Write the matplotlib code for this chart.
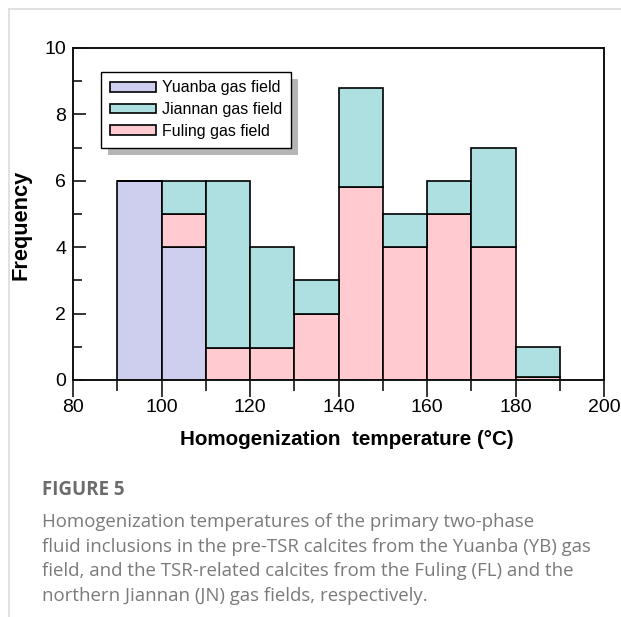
import matplotlib
matplotlib.use("Agg")
import matplotlib.pyplot as plt
from matplotlib.lines import Line2D
from matplotlib.patches import Patch

# ---- data ----
bin_left = [90, 100, 110, 120, 130, 140, 150, 160, 170, 180]
bin_width = 10
yuanba = [6, 4, 0, 0, 0, 0, 0, 0, 0, 0]
fuling = [0, 1, 0.95, 0.95, 2, 5.8, 4, 5, 4, 0.08]
jiannan = [0, 1, 5.05, 3.05, 1, 3, 1, 1, 3, 0.92]
series_names = ["Yuanba gas field", "Jiannan gas field", "Fuling gas field"]
colors = {"Yuanba gas field": "#cecfef", "Jiannan gas field": "#aedfe1", "Fuling gas field": "#ffcbd0"}
x_ticks = [80, 100, 120, 140, 160, 180, 200]
y_ticks = [0, 2, 4, 6, 8, 10]

caption_title = "FIGURE 5"
caption_lines = [
    "Homogenization temperatures of the primary two-phase",
    "fluid inclusions in the pre-TSR calcites from the Yuanba (YB) gas",
    "field, and the TSR-related calcites from the Fuling (FL) and the",
    "northern Jiannan (JN) gas fields, respectively.",
]

plt.rcParams['font.family'] = ['Liberation Sans', 'DejaVu Sans']

fig = plt.figure(figsize=(6.21, 6.17), dpi=100)
W, H = 621, 617
ax = fig.add_axes([73 / W, 1 - 380 / H, (604 - 73) / W, (380 - 48) / H])

ew = 1.2
ax.bar(bin_left, yuanba, width=bin_width, align='edge', color=colors["Yuanba gas field"],
       edgecolor='black', linewidth=ew, zorder=2)
bottom2 = [a for a in yuanba]
ax.bar(bin_left, fuling, width=bin_width, align='edge', bottom=bottom2,
       color=colors["Fuling gas field"], edgecolor='black', linewidth=ew, zorder=2)
bottom3 = [a + b for a, b in zip(yuanba, fuling)]
ax.bar(bin_left, jiannan, width=bin_width, align='edge', bottom=bottom3,
       color=colors["Jiannan gas field"], edgecolor='black', linewidth=ew, zorder=2)

ax.set_xlim(80, 200)
ax.set_ylim(0, 10)
ax.set_xticks(x_ticks)
ax.set_yticks(y_ticks)
ax.set_xticks(range(90, 200, 20), minor=True)
ax.set_yticks(range(1, 10, 2), minor=True)
ax.tick_params(axis='x', which='major', direction='out', length=12, width=1.1, labelsize=14, pad=2)
ax.tick_params(axis='x', which='minor', direction='out', length=8, width=1.1)
ax.tick_params(axis='y', which='major', direction='in', length=9.5, width=1.1, labelsize=14, pad=5)
ax.tick_params(axis='y', which='minor', direction='in', length=6.5, width=1.1)
for s in ax.spines.values():
    s.set_linewidth(1.4)
    s.set_color('#111111')

ax.set_xlabel("Homogenization  temperature (°C)", fontsize=14.9, fontweight='bold')
ax.set_ylabel("Frequency", fontsize=15.7, fontweight='bold')
ax.xaxis.set_label_coords(0.516, -0.150)
ax.yaxis.set_label_coords(-0.078, 0.468)

handles = [Patch(facecolor=colors[n], edgecolor='black', linewidth=1.2, label=n) for n in series_names]
leg = ax.legend(handles=handles, loc='upper left', bbox_to_anchor=(0.0527, 0.9286),
                fontsize=11.5, frameon=True, fancybox=False, edgecolor='black',
                shadow={'ox': 5, 'oy': -5, 'facecolor': '#b5b5b5', 'edgecolor': 'none', 'alpha': 1},
                handlelength=2.9, handleheight=0.55, handletextpad=0.35, labelspacing=0.42,
                borderpad=0.55, borderaxespad=0)
leg.get_frame().set_linewidth(1.0)
leg.get_frame().set_alpha(1)

# figure frame lines
fig.add_artist(Line2D([9 / W, 9 / W], [0, 1 - 9 / H], transform=fig.transFigure, color='#dcdcdc', lw=1.2))
fig.add_artist(Line2D([9 / W, 1], [1 - 9 / H, 1 - 9 / H], transform=fig.transFigure, color='#dcdcdc', lw=1.2))

cap_font = ['Open Sans', 'DejaVu Sans']
fig.text(42 / W, 1 - 490 / H, caption_title, fontsize=13.5, fontweight='bold', color='#6b6b6b',
         family=cap_font, va='center', ha='left')
for i, line in enumerate(caption_lines):
    fig.text(42 / W, 1 - (522 + i * 24.7) / H, line, fontsize=13.4, color='#7a7a7a',
             family=cap_font, va='center', ha='left')

fig.savefig("out.png", dpi=100)
